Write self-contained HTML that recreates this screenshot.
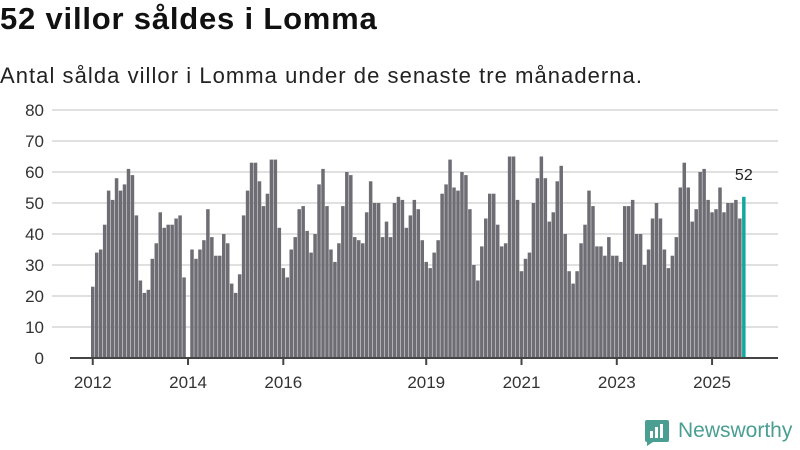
<!DOCTYPE html>
<html><head><meta charset="utf-8">
<style>
body{margin:0;background:#fff;width:800px;height:450px;overflow:hidden;font-family:"Liberation Sans",sans-serif;}
#title{position:absolute;left:0;top:1px;font-size:31px;font-weight:bold;color:#111;letter-spacing:0.8px;white-space:nowrap;}
#sub{position:absolute;left:0;top:63px;font-size:22px;color:#222;letter-spacing:1.05px;white-space:nowrap;}
svg{position:absolute;left:0;top:0;}
</style></head><body>
<div id="title">52 villor såldes i Lomma</div>
<div id="sub">Antal sålda villor i Lomma under de senaste tre månaderna.</div>
<svg id="chart" width="800" height="450"></svg>
<script>
const startYear = 2012;
const values = [
23,34,35,43,54,51,58,54,56,61,59,46,
25,21,22,32,37,47,42,43,43,45,46,26,
null,35,32,35,38,48,39,33,33,40,37,24,
21,27,46,54,63,63,57,49,53,64,64,42,
29,26,35,39,48,49,41,34,40,56,61,49,
35,31,37,49,60,59,39,38,37,47,57,50,
50,39,44,39,50,52,51,42,46,51,48,38,
31,29,34,38,53,56,64,55,54,60,59,48,
30,25,36,45,53,53,43,36,37,65,65,51,
28,32,34,50,58,65,58,44,47,57,62,40,
28,24,28,37,43,54,49,36,36,33,39,33,
33,31,49,49,51,40,40,30,35,45,50,45,
35,29,33,39,55,63,55,44,48,60,61,51,
47,48,55,47,50,50,51,45,52];
const yTicks = [0,10,20,30,40,50,60,70,80];
const xTickYears = [2012,2014,2016,2019,2021,2023,2025];

const NS='http://www.w3.org/2000/svg';
const svg=document.getElementById('chart');
const y0=358, yTop=110, yMax=80;
const step=3.97, x0=91, bw=3.5;
function y(v){return y0-(v/yMax)*(y0-yTop);}
function x(i){return x0+i*step;}
function mk(t,a){const e=document.createElementNS(NS,t);for(const k in a)e.setAttribute(k,a[k]);svg.appendChild(e);return e;}
yTicks.forEach(t=>{
  if(t>0){const g=mk('line',{x1:52,x2:778,y1:y(t),y2:y(t),stroke:'#e0e0e0','stroke-width':2});
  
  }
  const l=mk('text',{x:44,y:y(t)+6,'text-anchor':'end','font-size':17,fill:'#333','font-family':'Liberation Sans, sans-serif'});
  l.textContent=t;
  
  
});
values.forEach((v,i)=>{
  if(v==null)return;
  const last=i===values.length-1;
  const r=mk('rect',{x:x(i),y:y(v),width:bw,height:y0-y(v),fill:last?'#13a89e':'#6e6d74'});
  
  
  if(last){const t=mk('text',{x:x(i)+bw/2,y:y(v)-17,'text-anchor':'middle','font-size':16,fill:'#222','font-family':'Liberation Sans, sans-serif'});
    t.textContent=v;
    
    }
});
const ax=mk('line',{x1:70,x2:778,y1:y0,y2:y0,stroke:'#444','stroke-width':2});


xTickYears.forEach(yr=>{
  const xi=x((yr-startYear)*12)+bw/2;
  const tk=mk('line',{x1:xi,x2:xi,y1:y0,y2:y0+7,stroke:'#444','stroke-width':2});
  
  
  const l=mk('text',{x:xi,y:388,'text-anchor':'middle','font-size':17,fill:'#333','font-family':'Liberation Sans, sans-serif'});
  l.textContent=yr;
  
  
});
</script>
<div style="position:absolute;left:645px;top:420px;">
<svg width="24" height="26" viewBox="0 0 24 26" style="position:absolute;left:0;top:0;">
<path d="M2 0h20a2 2 0 0 1 2 2v18a2 2 0 0 1-2 2H8l-6 4v-4H2a2 2 0 0 1-2-2V2a2 2 0 0 1 2-2z" fill="#4a9e92"/>
<rect x="5" y="11" width="3" height="7" fill="#fff"/><rect x="10" y="7" width="3" height="11" fill="#fff"/><rect x="15" y="4" width="3" height="14" fill="#fff"/>
</svg>
<span style="position:absolute;left:33px;top:-1px;font-size:21px;color:#4a9e92;white-space:nowrap;">Newsworthy</span>
</div>
</body></html>
